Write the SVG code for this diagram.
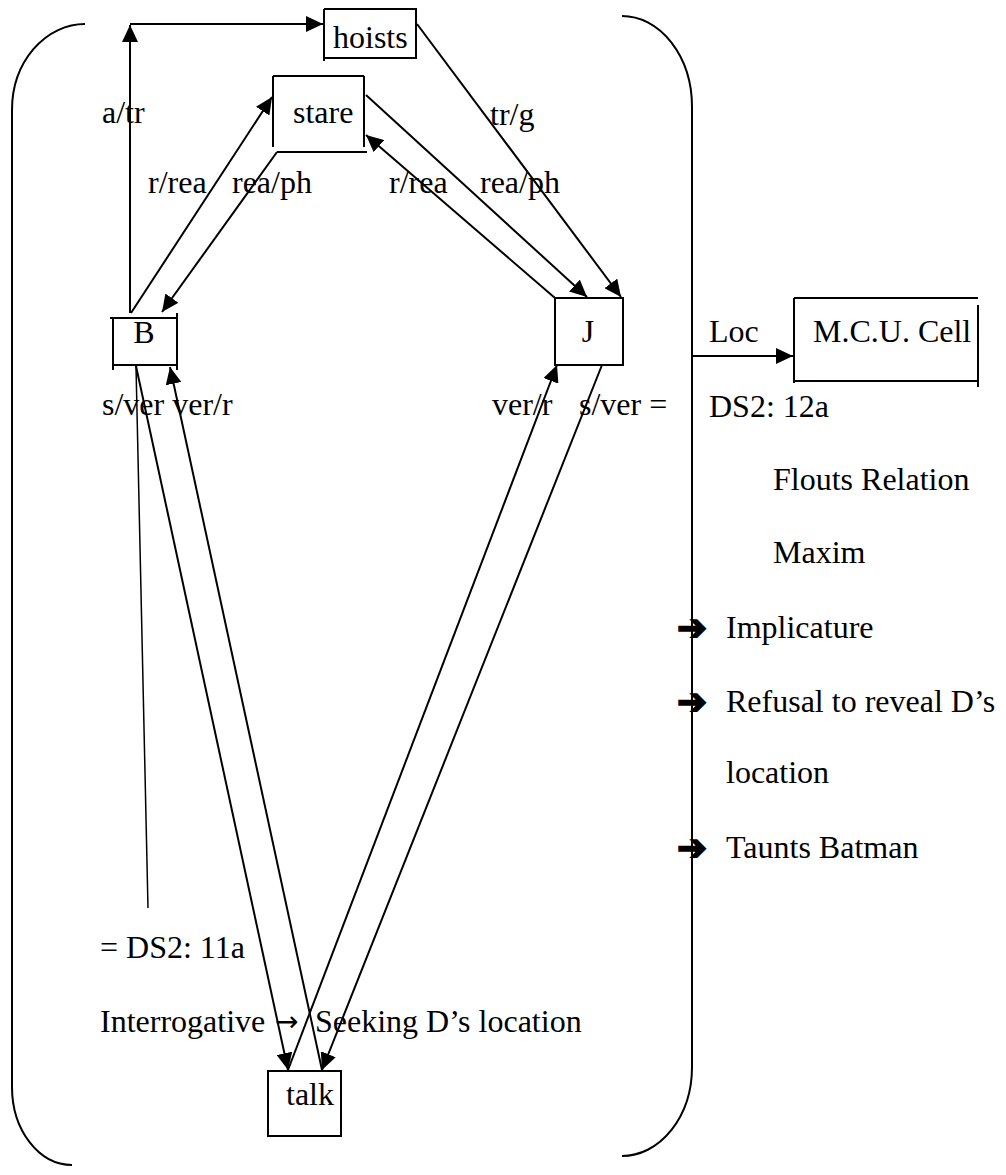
<svg xmlns="http://www.w3.org/2000/svg" width="1006" height="1175" viewBox="0 0 1006 1175" font-family="'Liberation Serif', 'Times New Roman', Times, serif">
  <style>
    text { font-size: 32px; fill: #000; }
    .box { fill: none; stroke: #000; stroke-width: 2; }
    .edge { fill: none; stroke: #000; stroke-width: 2; }
    .arrow { marker-end: url(#head); }
    .thin { fill: none; stroke: #000; stroke-width: 1.5; }
    .bracket { fill: none; stroke: #000; stroke-width: 2; }
    .bullet { font-size: 36px; stroke: #000; stroke-width: 1.6; }
    .sym { font-family: "DejaVu Sans", sans-serif; font-size: 28px; }
  </style>
  <defs>
    <marker id="head" markerUnits="userSpaceOnUse" markerWidth="18" markerHeight="16" viewBox="0 0 18 16" refX="17" refY="8" orient="auto">
      <path d="M0,0 L17,8 L0,16 Z" fill="#000"/>
    </marker>
  </defs>

  <!-- enclosing brackets -->
  <g id="brackets">
    <path class="bracket" d="M85,24 A73,86 0 0 0 12,110 L12,1087 A60,78 0 0 0 72,1165"/>
    <path class="bracket" d="M622,16 A70,91 0 0 1 692,107 L692,1067 A70,89 0 0 1 622,1156"/>
  </g>

  <!-- connectors -->
  <g id="connectors">
    <path class="edge arrow" d="M130,313 L130,25"/>
    <path class="edge arrow" d="M130,24 L323,24"/>
    <path class="edge arrow" d="M131,313 L272,97"/>
    <path class="edge arrow" d="M277,152 L162,312"/>
    <path class="edge arrow" d="M366,95 L587,297"/>
    <path class="edge arrow" d="M555,298 L366,135"/>
    <path class="edge arrow" d="M417,24 L621,297"/>
    <path class="edge arrow" d="M136,366 L288,1070"/>
    <path class="edge arrow" d="M322,1070 L170,367"/>
    <path class="edge arrow" d="M288,1070 L557,365"/>
    <path class="edge arrow" d="M602,365 L322,1070"/>
    <path class="thin" d="M136,366 L148,908"/>
    <path class="edge arrow" d="M692,356 L793,356"/>
  </g>

  <!-- nodes -->
  <g id="node-hoists">
    <path class="box" d="M324,9 L416,9 L416,58 L324,58 M324,9 L324,61"/>
    <text x="333" y="48">hoists</text>
  </g>
  <g id="node-stare">
    <path class="box" d="M273,76 L364,76 M273,76 L273,147 M364,76 L364,147 M277,152 L367,152"/>
    <text x="293" y="123">stare</text>
  </g>
  <g id="node-B">
    <path class="box" d="M110,318 L176,318 M113,318 L113,370 M177,313 L177,370 M113,365 L177,365"/>
    <text x="144" y="343" text-anchor="middle">B</text>
  </g>
  <g id="node-J">
    <rect class="box" x="555" y="298" width="68" height="67"/>
    <text x="588" y="342" text-anchor="middle">J</text>
  </g>
  <g id="node-talk">
    <rect class="box" x="268" y="1071" width="73" height="65"/>
    <text x="286" y="1105">talk</text>
  </g>
  <g id="node-mcu">
    <path class="box" d="M794,298 L978,298 M794,298 L794,383 M794,381 L978,381 M978,305 L978,387"/>
    <text x="813" y="342">M.C.U. Cell</text>
  </g>

  <!-- edge labels -->
  <g id="labels">
    <text x="102" y="123">a/tr</text>
    <text x="490" y="125">tr/g</text>
    <text x="148" y="193">r/rea</text>
    <text x="232" y="193">rea/ph</text>
    <text x="389" y="193">r/rea</text>
    <text x="480" y="193">rea/ph</text>
    <text x="102" y="415">s/ver ver/r</text>
    <text x="492" y="415">ver/r</text>
    <text x="579" y="415">s/ver =</text>
    <text x="709" y="342">Loc</text>
  </g>

  <!-- annotations -->
  <g id="notes-right">
    <text x="709" y="417">DS2: 12a</text>
    <text x="773" y="490">Flouts Relation</text>
    <text x="773" y="563">Maxim</text>
    <text class="bullet" x="677" y="640">➔</text>
    <text x="726" y="638">Implicature</text>
    <text class="bullet" x="677" y="714">➔</text>
    <text x="726" y="712">Refusal to reveal D’s</text>
    <text x="726" y="783">location</text>
    <text class="bullet" x="677" y="860">➔</text>
    <text x="726" y="858">Taunts Batman</text>
  </g>
  <g id="notes-left">
    <text x="100" y="958">= DS2: 11a</text>
    <text x="100" y="1032">Interrogative</text>
    <text class="sym" x="275" y="1031">→</text>
    <text x="315" y="1032">Seeking D’s location</text>
  </g>
</svg>
